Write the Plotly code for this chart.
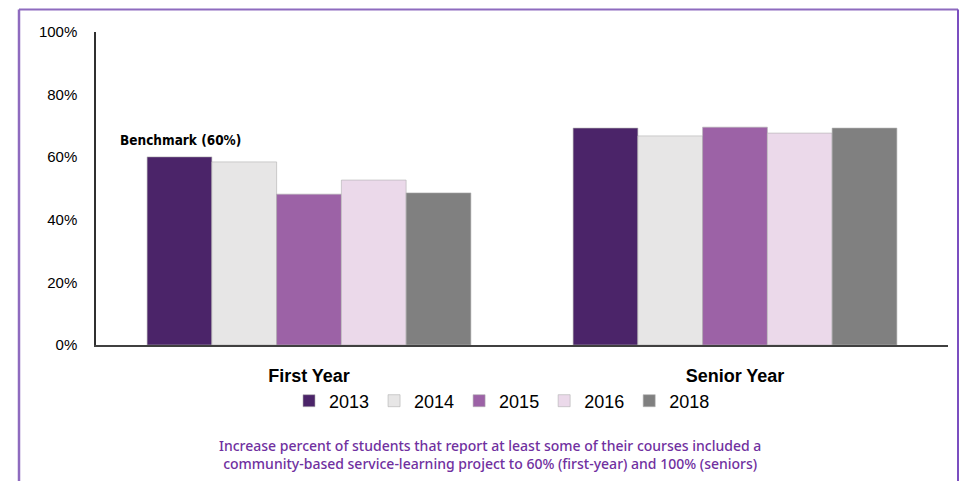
import plotly.graph_objects as go

categories = ["First Year", "Senior Year"]
years = ["2013", "2014", "2015", "2016", "2018"]
values = {
    "2013": [60.1, 69.3],
    "2014": [58.5, 66.8],
    "2015": [48.2, 69.6],
    "2016": [52.7, 67.7],
    "2018": [48.6, 69.3],
}
colors = ["#4B2469", "#E7E6E6", "#9C62A6", "#EBD9EA", "#808080"]
y_ticks = [0, 20, 40, 60, 80, 100]
y_tick_labels = ["0%", "20%", "40%", "60%", "80%", "100%"]
benchmark_label = "Benchmark (60%)"
caption = ("Increase percent of students that report at least some of their courses included a<br>"
           "community-based service-learning project to 60% (first-year) and 100% (seniors)")

# page body has an 8px margin, so the figure is drawn 8px in from the window edge;
# keep the figure small enough that the page never overflows (no scrollbars)
OFF = 8
W, H = 968 - 2 * OFF, 489 - 2 * OFF
ml, mt = 96 - OFF, 32 - OFF
pw, ph = 852, 313
mr = W - ml - pw
mb = H - mt - ph

def px(x):
    return (x - OFF - ml) / pw

def py(y):
    return (H - mb - (y - OFF)) / ph

FONT = "Liberation Sans, Arial, sans-serif"

fig = go.Figure()
for yr, c in zip(years, colors):
    fig.add_trace(go.Bar(
        x=categories, y=values[yr], name=yr,
        marker=dict(color=c, line=dict(color="#b0b0b0", width=0.6)),
    ))

fig.update_layout(
    width=W, height=H,
    margin=dict(l=ml, r=mr, t=mt, b=mb),
    paper_bgcolor="white", plot_bgcolor="white",
    barmode="group", bargap=0.24, bargroupgap=0,
    font=dict(family=FONT, color="#000000"),
    showlegend=True,
    legend=dict(orientation="h", x=px(502), xanchor="center", y=py(401), yanchor="middle",
                font=dict(size=18, family=FONT), itemwidth=30, traceorder="normal"),
    xaxis=dict(showline=True, linecolor="#404040", linewidth=1.5, ticks="",
               tickfont=dict(size=18, family=FONT, color="#000"),
               ticklabelstandoff=14, showgrid=False,
               tickvals=categories,
               ticktext=["<b>First Year</b>", "<b>Senior Year</b>"]),
    yaxis=dict(range=[0, 100], tickvals=y_ticks, ticktext=y_tick_labels,
               showline=True, linecolor="#303030", linewidth=1.5, ticks="",
               showgrid=False, zeroline=False,
               tickfont=dict(size=15, family=FONT, color="#000"),
               ticklabelstandoff=14),
)

fig.add_annotation(x=px(180), y=values["2013"][0], xref="paper", yref="y",
                   xanchor="center", yanchor="middle",
                   text="<b>" + benchmark_label + "</b>", showarrow=False,
                   yshift=17, font=dict(size=13.5, family="DejaVu Sans Condensed, " + FONT, color="#000"))

fig.add_annotation(x=px(490), y=py(455), xref="paper", yref="paper",
                   xanchor="center", yanchor="middle",
                   text=caption, showarrow=False, align="center",
                   font=dict(size=14, family="Noto Sans, sans-serif", color="#7030A0", weight=500))

frame_color = "#8E6BBF"
top_y = 9.5
right_x = 958
fig.add_shape(type="line", xref="paper", yref="paper",
              x0=px(19), x1=px(19), y0=py(top_y), y1=py(500),
              line=dict(color=frame_color, width=2.5))
fig.add_shape(type="line", xref="paper", yref="paper",
              x0=px(19), x1=px(right_x), y0=py(top_y), y1=py(top_y),
              line=dict(color=frame_color, width=2))
fig.add_shape(type="line", xref="paper", yref="paper",
              x0=px(right_x), x1=px(right_x), y0=py(top_y), y1=py(500),
              line=dict(color="#7B4FC0", width=2))

fig.write_html("out.html")
